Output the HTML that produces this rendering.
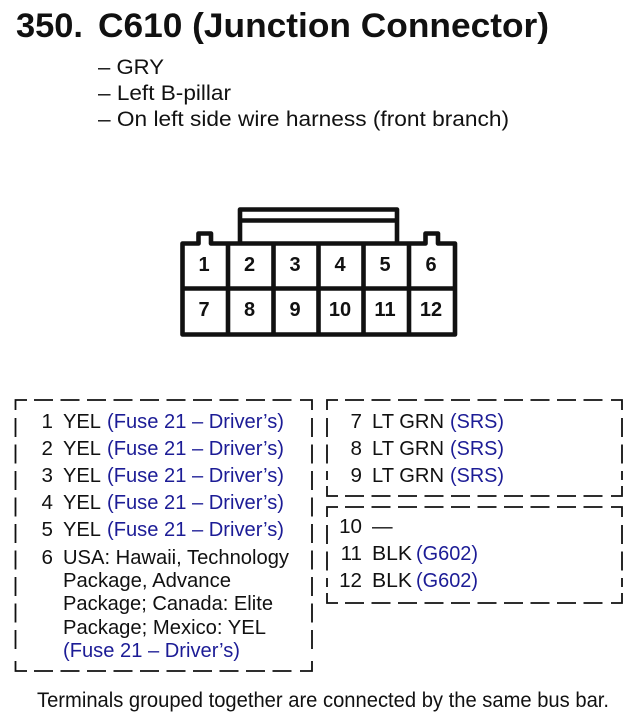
<!DOCTYPE html>
<html>
<head>
<meta charset="utf-8">
<style>
html,body{margin:0;padding:0;background:#fff;}
svg{display:block;}
text{font-family:"Liberation Sans",sans-serif;fill:#111;}
.b{fill:#1c1c96;}
.t{font-size:20.6px;}
.h{font-size:21.5px;}
.d{font-size:20px;font-weight:bold;text-anchor:middle;}
.n{text-anchor:end;font-size:20.6px;}
</style>
</head>
<body>
<svg width="630" height="726" viewBox="0 0 630 726" xmlns="http://www.w3.org/2000/svg">
<text x="16" y="37" font-size="34" font-weight="bold" textLength="67" lengthAdjust="spacingAndGlyphs">350.</text>
<text x="98" y="37" font-size="34" font-weight="bold" textLength="451" lengthAdjust="spacingAndGlyphs">C610 (Junction Connector)</text>
<text class="h" x="98" y="74" textLength="66" lengthAdjust="spacingAndGlyphs">– GRY</text>
<text class="h" x="98" y="100" textLength="133" lengthAdjust="spacingAndGlyphs">– Left B-pillar</text>
<text class="h" x="98" y="126" textLength="411" lengthAdjust="spacingAndGlyphs">– On left side wire harness (front branch)</text>

<g fill="none" stroke="#111" stroke-width="4.6" stroke-linejoin="round">
<path d="M240 242V209.500H397V242M240 220.500H397"/>
<path d="M182.500 243.500H198.500V233.500H211V243.500H425.500V233.500H438V243.500H455V334.500H182.500Z"/>
<path d="M182.500 288.500H455M228 243.500V334.500M273.500 243.500V334.500M318.500 243.500V334.500M363.500 243.500V334.500M409 243.500V334.500"/>
</g>
<text class="d" x="204" y="271">1</text><text class="d" x="249.500" y="271">2</text><text class="d" x="295" y="271">3</text><text class="d" x="340" y="271">4</text><text class="d" x="385" y="271">5</text><text class="d" x="431" y="271">6</text>
<text class="d" x="204" y="316">7</text><text class="d" x="249.500" y="316">8</text><text class="d" x="295" y="316">9</text><text class="d" x="340" y="316">10</text><text class="d" x="385" y="316">11</text><text class="d" x="431" y="316">12</text>

<g fill="none" stroke="#111" stroke-width="1.800">
<path d="M15.500 410V400H27"/><path d="M312 410V400H300"/><path d="M15.500 661V671H27"/><path d="M312 661V671H300"/>
<path d="M34 400H294" stroke-dasharray="19 7.500"/><path d="M34 671H294" stroke-dasharray="19 7.500"/>
<path d="M15.500 418V654" stroke-dasharray="19 7.500"/><path d="M312 418V654" stroke-dasharray="19 7.500"/>

<path d="M327 410V400H338"/><path d="M622 410V400H611"/><path d="M327 486V496H338"/><path d="M622 486V496H611"/>
<path d="M345 400H605" stroke-dasharray="19 7.500"/><path d="M345 496H605" stroke-dasharray="19 7.500"/>
<path d="M327 418V480" stroke-dasharray="19 7.500"/><path d="M622 418V480" stroke-dasharray="19 7.500"/>

<path d="M327 517V507H338"/><path d="M622 517V507H611"/><path d="M327 593V603H338"/><path d="M622 593V603H611"/>
<path d="M345 507H605" stroke-dasharray="19 7.500"/><path d="M345 603H605" stroke-dasharray="19 7.500"/>
<path d="M327 525V587" stroke-dasharray="19 7.500"/><path d="M622 525V587" stroke-dasharray="19 7.500"/>
</g>

<text class="n" x="53" y="428">1</text><text class="t" x="63" y="428" textLength="38" lengthAdjust="spacingAndGlyphs">YEL</text><text class="t b" x="107" y="428" textLength="177" lengthAdjust="spacingAndGlyphs">(Fuse 21 – Driver’s)</text>
<text class="n" x="53" y="455">2</text><text class="t" x="63" y="455" textLength="38" lengthAdjust="spacingAndGlyphs">YEL</text><text class="t b" x="107" y="455" textLength="177" lengthAdjust="spacingAndGlyphs">(Fuse 21 – Driver’s)</text>
<text class="n" x="53" y="482">3</text><text class="t" x="63" y="482" textLength="38" lengthAdjust="spacingAndGlyphs">YEL</text><text class="t b" x="107" y="482" textLength="177" lengthAdjust="spacingAndGlyphs">(Fuse 21 – Driver’s)</text>
<text class="n" x="53" y="509">4</text><text class="t" x="63" y="509" textLength="38" lengthAdjust="spacingAndGlyphs">YEL</text><text class="t b" x="107" y="509" textLength="177" lengthAdjust="spacingAndGlyphs">(Fuse 21 – Driver’s)</text>
<text class="n" x="53" y="536">5</text><text class="t" x="63" y="536" textLength="38" lengthAdjust="spacingAndGlyphs">YEL</text><text class="t b" x="107" y="536" textLength="177" lengthAdjust="spacingAndGlyphs">(Fuse 21 – Driver’s)</text>
<text class="n" x="53" y="564">6</text><text class="t" x="63" y="564" textLength="226" lengthAdjust="spacingAndGlyphs">USA: Hawaii, Technology</text>
<text class="t" x="63" y="587" textLength="168" lengthAdjust="spacingAndGlyphs">Package, Advance</text>
<text class="t" x="63" y="610" textLength="210" lengthAdjust="spacingAndGlyphs">Package; Canada: Elite</text>
<text class="t" x="63" y="634" textLength="203" lengthAdjust="spacingAndGlyphs">Package; Mexico: YEL</text>
<text class="t b" x="63" y="657" textLength="177" lengthAdjust="spacingAndGlyphs">(Fuse 21 – Driver’s)</text>

<text class="n" x="362" y="428">7</text><text class="t" x="372" y="428" textLength="72" lengthAdjust="spacingAndGlyphs">LT GRN</text><text class="t b" x="450" y="428" textLength="54" lengthAdjust="spacingAndGlyphs">(SRS)</text>
<text class="n" x="362" y="455">8</text><text class="t" x="372" y="455" textLength="72" lengthAdjust="spacingAndGlyphs">LT GRN</text><text class="t b" x="450" y="455" textLength="54" lengthAdjust="spacingAndGlyphs">(SRS)</text>
<text class="n" x="362" y="482">9</text><text class="t" x="372" y="482" textLength="72" lengthAdjust="spacingAndGlyphs">LT GRN</text><text class="t b" x="450" y="482" textLength="54" lengthAdjust="spacingAndGlyphs">(SRS)</text>

<text class="n" x="362" y="533">10</text><text class="t" x="372" y="533">—</text>
<text class="n" x="362" y="560">11</text><text class="t" x="372" y="560" textLength="40" lengthAdjust="spacingAndGlyphs">BLK</text><text class="t b" x="416" y="560" textLength="62" lengthAdjust="spacingAndGlyphs">(G602)</text>
<text class="n" x="362" y="587">12</text><text class="t" x="372" y="587" textLength="40" lengthAdjust="spacingAndGlyphs">BLK</text><text class="t b" x="416" y="587" textLength="62" lengthAdjust="spacingAndGlyphs">(G602)</text>

<text x="37" y="707" font-size="20.800" textLength="572" lengthAdjust="spacingAndGlyphs">Terminals grouped together are connected by the same bus bar.</text>
</svg>
</body>
</html>
